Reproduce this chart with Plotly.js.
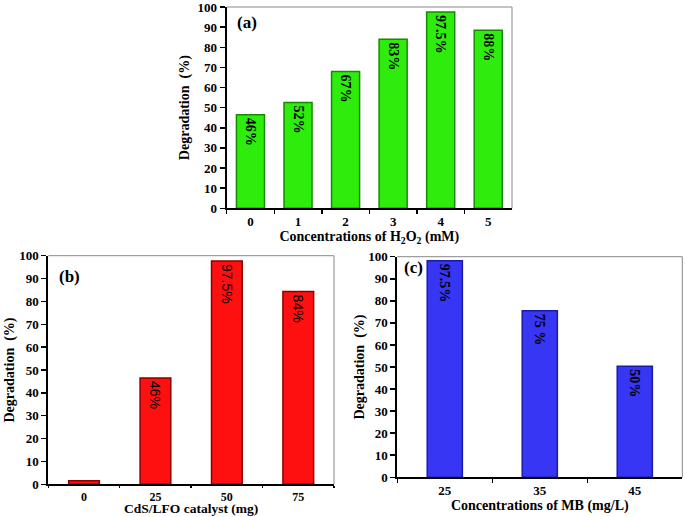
<!DOCTYPE html>
<html><head><meta charset="utf-8">
<script src="https://cdn.plot.ly/plotly-3.0.1.min.js"></script>
<style>html,body{margin:0;padding:0;background:#fff}#chart{width:685px;height:517px}</style>
</head><body><div id="chart"></div>
<script>
// Panel (a)
const catsA = ['0','1','2','3','4','5'];
const valsA = [46.5, 52.5, 68, 84, 97.5, 88.5];
const labelsA = ['46%','52%','67%','83%','97.5%','88%'];
// Panel (b)
const catsB = ['0','25','50','75'];
const valsB = [1.5, 46.5, 97.7, 84.3];
const labelsB = ['','46%','97.5%','84%'];
// Panel (c)
const catsC = ['25','35','45'];
const valsC = [98.2, 75.5, 50.3];
const labelsC = ['97.5%','75 %','50%'];

const serif = 'Liberation Serif, Times New Roman, serif';

function bar(x, y, text, xa, ya, fill, edge, width, tfont){
  return {type:'bar', x:x, y:y, text:text, xaxis:xa, yaxis:ya,
    marker:{color:fill, line:{color:edge, width:1.5}}, width:width,
    textposition:'inside', insidetextanchor:'end', textangle:90, constraintext:'none',
    textfont:tfont, hoverinfo:'none', showlegend:false, cliponaxis:false};
}

const data = [
  bar(catsA, valsA, labelsA, 'x', 'y', '#2eec0c', '#178a00', 0.59, {family:serif, size:14, color:'#000', weight:'bold'}),
  bar(catsB, valsB, labelsB, 'x2', 'y2', '#ff1010', '#8a0000', 0.43, {family:'Liberation Sans, Arial, sans-serif', size:14, color:'#000'}),
  bar(catsC, valsC, labelsC, 'x3', 'y3', '#3636f4', '#1a1aa8', 0.37, {family:serif, size:14, color:'#000', weight:'bold'})
];

const tickFont = {family:serif, size:13, color:'#000', weight:'bold'};
const titleFont = {family:serif, size:14, color:'#000', weight:'bold'};

function xax(domain, anchor, title, standoff, ticklen, tsize){
  return {domain:domain, anchor:anchor, type:'category', tickson:'boundaries', ticks:'outside', ticklen:ticklen,
    tickwidth:1.5, tickcolor:'#000', showline:true, linecolor:'#000', linewidth:2, mirror:false,
    showgrid:false, zeroline:false, tickfont:Object.assign({}, tickFont, {size:tsize}),
    title:{text:title, font:titleFont, standoff:standoff}, fixedrange:true};
}
function yax(domain, anchor, standoff){
  return {domain:domain, anchor:anchor, range:[0,100], dtick:10, ticks:'outside', ticklen:5,
    tickwidth:1.5, tickcolor:'#000', showline:true, linecolor:'#000', linewidth:2,
    showgrid:false, zeroline:false, tickfont:tickFont, ticklabeloverflow:'allow',
    title:{text:'Degradation  (%)', font:titleFont, standoff:standoff}, fixedrange:true};
}

const W=685, H=517;
const px=v=>v/W, py=v=>(H-v)/H;

const layout = {
  width:W, height:H, margin:{l:0,r:0,t:0,b:0}, paper_bgcolor:'#fff', plot_bgcolor:'#fff',
  bargap:0, showlegend:false,
  xaxis: xax([px(226.7), px(512)], 'y', 'Concentrations of H<sub>2</sub>O<sub>2</sub> (mM)', 2, 4, 13),
  yaxis: yax([py(208.3), py(7)], 'x', 5),
  xaxis2: xax([px(48.3), px(334)], 'y2', '', 0, 2, 12),
  yaxis2: yax([py(484.3), py(255.7)], 'x2', 1),
  xaxis3: xax([px(397.3), px(682.3)], 'y3', 'Concentrations of MB (mg/L)', 2, 4, 13),
  yaxis3: yax([py(477.3), py(256.7)], 'x3', 0),
  shapes: [
    {type:'line', xref:'x domain', yref:'y domain', x0:0, x1:1, y0:1, y1:1, line:{color:'#888', width:1}},
    {type:'line', xref:'x domain', yref:'y domain', x0:1, x1:1, y0:0, y1:1, line:{color:'#888', width:1}},
    {type:'line', xref:'x2 domain', yref:'y2 domain', x0:0, x1:1, y0:1, y1:1, line:{color:'#888', width:1}},
    {type:'line', xref:'x2 domain', yref:'y2 domain', x0:1, x1:1, y0:0, y1:1, line:{color:'#888', width:1}},
    {type:'line', xref:'x3 domain', yref:'y3 domain', x0:0, x1:1, y0:1, y1:1, line:{color:'#888', width:1}},
    {type:'line', xref:'x3 domain', yref:'y3 domain', x0:1, x1:1, y0:0, y1:1, line:{color:'#888', width:1}}
  ],
  annotations: [
    {text:'(a)', xref:'x domain', yref:'y domain', x:0.03, y:0.98, xanchor:'left', yanchor:'top', showarrow:false, font:{family:serif, size:17, color:'#000', weight:'bold'}},
    {text:'(b)', xref:'x2 domain', yref:'y2 domain', x:0.03, y:0.96, xanchor:'left', yanchor:'top', showarrow:false, font:{family:serif, size:17, color:'#000', weight:'bold'}},
    {text:'(c)', xref:'x3 domain', yref:'y3 domain', x:0.015, y:1.005, xanchor:'left', yanchor:'top', showarrow:false, font:{family:serif, size:17, color:'#000', weight:'bold'}},
    {text:'CdS/LFO catalyst (mg)', xref:'x2 domain', yref:'paper', x:0.5, y:0, xanchor:'center', yanchor:'bottom', showarrow:false, borderpad:0, font:{family:serif, size:13.5, color:'#000', weight:'bold'}}
  ]
};

Plotly.newPlot('chart', data, layout, {displayModeBar:false, staticPlot:true});
</script></body></html>
